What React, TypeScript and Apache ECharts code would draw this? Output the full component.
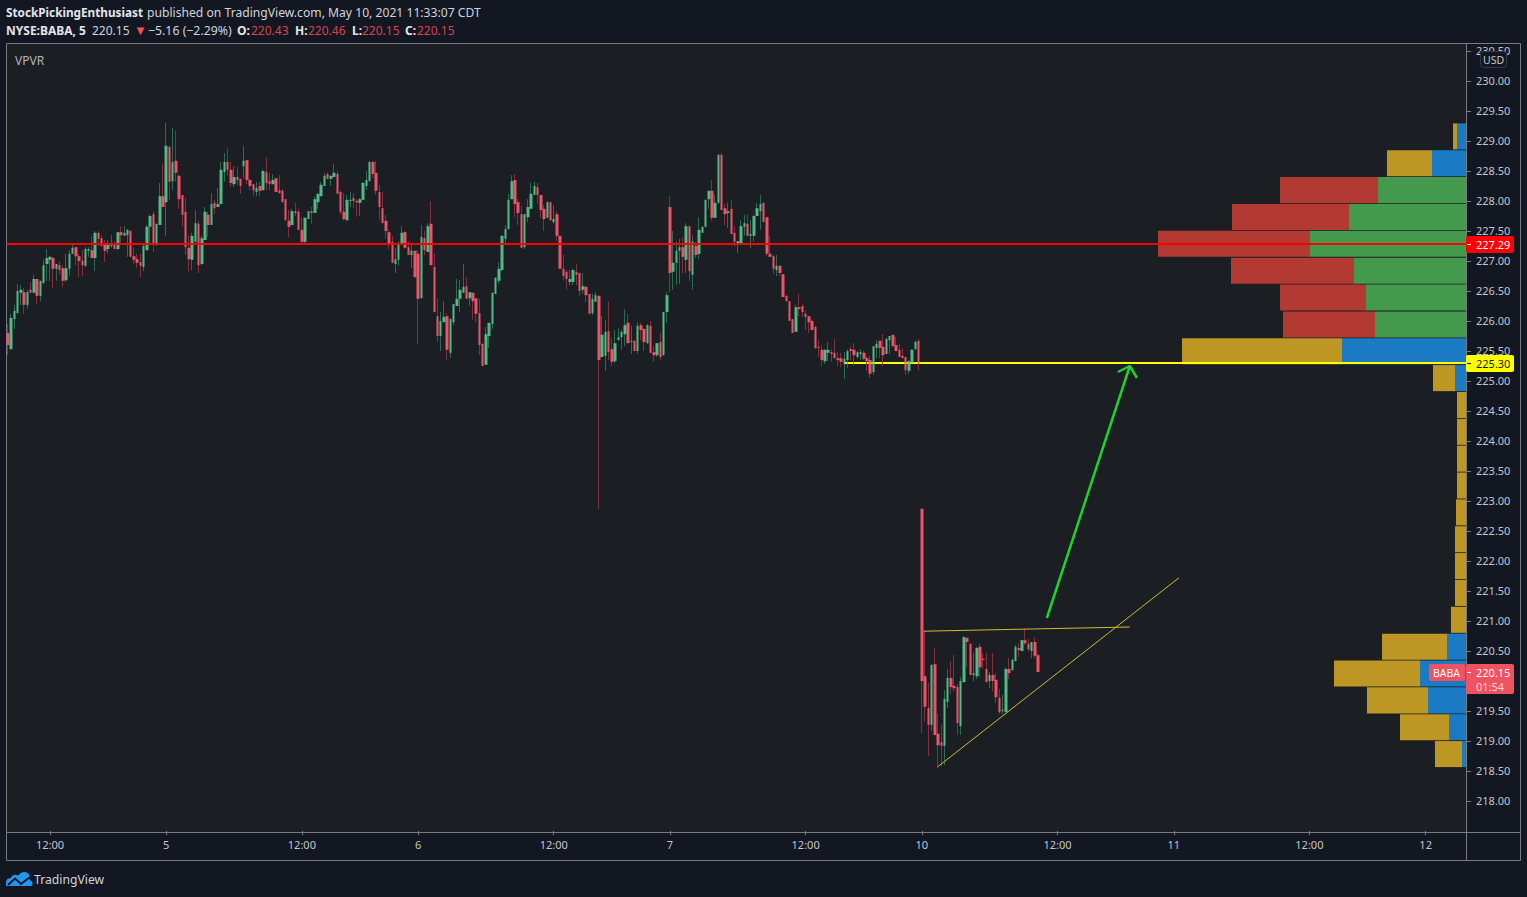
import React, { useEffect, useRef } from "react";
import * as echarts from "echarts";

// [open, close, low, high]
const may4 = [
[225.80,225.60,225.43,225.95],[225.53,226.05,225.53,226.12],[226.03,226.17,225.87,226.27],[226.13,226.50,226.13,226.62],[226.47,226.52,226.27,226.60],[226.48,226.27,226.12,226.55],[226.27,226.48,226.20,226.52],[226.52,226.47,226.47,226.65],[226.47,226.70,226.47,226.77],[226.70,226.42,226.28,226.70],
[226.42,226.67,226.33,226.67],[226.63,226.93,226.63,227.02],[226.95,227.05,226.67,227.20],[227.02,227.07,226.67,227.08],[227.05,226.87,226.55,227.07],[226.87,226.95,226.67,226.95],[226.93,226.85,226.77,227.00],[226.88,226.67,226.57,226.93],[226.68,226.88,226.65,227.12],[226.87,227.12,226.75,227.18],
[227.12,227.22,227.12,227.27],[227.23,227.08,226.93,227.23],[227.08,227.00,226.73,227.12],[227.00,226.93,226.75,227.18],[226.92,227.20,226.90,227.23],[227.17,227.20,227.07,227.23],[227.18,227.05,227.05,227.42],[227.05,227.47,226.83,227.50],[227.47,227.37,227.25,227.50],[227.38,227.25,227.24,227.43],
[227.27,227.17,226.98,227.35],[227.20,227.27,227.12,227.35],[227.25,227.27,227.22,227.43],[227.27,227.20,227.20,227.33],[227.20,227.48,227.18,227.48],[227.48,227.43,227.27,227.58],[227.42,227.47,227.42,227.58],[227.43,227.52,227.07,227.53],[227.50,227.07,227.07,227.52],[227.08,227.02,226.95,227.23],
[227.03,226.97,226.88,227.12],[226.98,226.92,226.73,227.12],[226.90,227.25,226.83,227.27],[227.18,227.57,227.18,227.60],[227.57,227.75,227.27,227.77],[227.78,227.30,227.15,227.83],[227.27,227.62,227.25,227.62],[227.60,228.08,227.60,228.30],[228.08,227.90,227.90,228.62],
];
const may5 = [
[227.98,228.92,227.42,229.30],[228.90,228.32,228.02,228.92],[228.33,228.65,228.18,229.22],[228.67,228.47,228.32,229.17],[228.42,228.03,227.87,228.45],[228.10,227.77,227.58,228.10],[227.82,227.23,227.10,228.05],[227.22,227.03,226.82,227.43],[227.02,227.42,226.85,227.47],[227.32,227.63,227.32,227.85],
[227.62,226.93,226.80,227.67],[226.95,227.38,226.93,227.43],[227.35,227.82,227.35,227.90],[227.77,227.60,227.40,227.82],[227.60,227.95,227.60,228.13],[227.97,227.88,227.78,228.02],[227.90,227.95,227.90,228.22],[227.95,228.52,227.95,228.65],[228.48,228.65,228.32,228.80],[228.65,228.52,228.42,228.88],
[228.52,228.30,228.23,228.65],[228.28,228.40,228.23,228.58],[228.40,228.35,228.27,228.57],[228.37,228.25,228.12,228.37],[228.58,228.67,228.37,228.92],[228.68,228.35,228.28,228.68],[228.35,228.25,228.18,228.37],[228.28,228.18,228.08,228.28],[228.15,228.22,228.08,228.32],[228.25,228.17,228.08,228.32],
[228.18,228.50,228.18,228.52],[228.48,228.30,228.18,228.73],[228.33,228.28,228.18,228.47],[228.28,228.35,228.28,228.45],[228.38,228.15,228.15,228.38],[228.18,228.13,228.13,228.43],[228.17,227.98,227.98,228.20],[228.03,227.68,227.67,228.03],[227.67,227.57,227.40,227.85],[227.60,227.83,227.60,227.87],
[227.83,227.80,227.75,227.97],[227.82,227.52,227.52,227.87],[227.52,227.32,227.30,227.73],[227.32,227.72,227.30,227.73],[227.70,227.83,227.70,227.83],[227.83,227.80,227.62,227.90],[227.80,228.03,227.80,228.08],[227.98,228.12,227.87,228.13],[228.08,228.27,228.08,228.32],[228.25,228.42,228.25,228.47],
[228.45,228.37,228.37,228.48],[228.37,228.42,228.25,228.43],[228.40,228.47,228.40,228.62],[228.45,228.12,228.12,228.50],[228.15,227.82,227.77,228.18],[227.82,227.70,227.67,228.13],[227.68,228.02,227.67,228.10],[228.00,228.02,227.90,228.15],[228.05,228.00,227.88,228.13],[228.00,227.98,227.74,228.03],
[227.97,228.03,227.75,228.05],[228.02,228.30,228.02,228.32],[228.25,228.35,228.18,228.50],[228.33,228.65,228.33,228.67],[228.65,228.45,228.38,228.67],[228.47,228.17,228.10,228.67],[228.15,227.90,227.70,228.27],[227.88,227.63,227.63,228.15],[227.67,227.50,227.38,227.77],[227.48,227.30,227.20,227.52],
[227.32,226.97,226.97,227.42],[226.95,227.03,226.80,227.22],[227.02,227.27,226.92,227.33],[227.27,227.47,227.27,227.58],[227.48,227.22,227.20,227.50],[227.23,227.10,227.10,227.33],[227.10,227.17,226.88,227.27],[227.17,226.73,226.73,227.18],
];
const may6 = [
[227.12,226.37,225.62,227.18],[226.38,227.40,226.38,227.60],[227.38,227.18,227.10,227.50],[227.15,227.58,227.15,227.63],[227.62,226.93,226.93,228.00],[226.90,226.15,226.15,227.13],[226.08,225.75,225.65,226.38],[225.75,226.00,225.50,226.15],[225.98,226.07,225.98,226.33],[226.08,225.52,225.35,226.13],
[225.47,226.03,225.38,226.05],[225.98,226.28,225.93,226.28],[226.25,226.37,226.25,226.70],[226.37,226.52,226.15,226.68],[226.47,226.57,226.47,226.95],[226.58,226.37,226.37,226.73],[226.38,226.48,226.25,226.48],[226.47,226.33,226.02,226.47],[226.38,226.12,225.98,226.38],[226.13,225.60,225.43,226.37],
[225.62,225.25,225.25,225.62],[225.27,225.78,225.27,225.90],[225.75,225.97,225.55,225.97],[225.95,226.47,225.87,226.48],[226.45,226.72,226.45,226.73],[226.67,226.87,226.62,226.98],[226.85,227.42,226.83,227.43],[227.37,227.53,227.28,227.60],[227.53,228.02,227.53,228.12],[228.03,228.33,228.03,228.43],
[228.35,227.95,227.73,228.45],[227.98,227.80,227.60,228.03],[227.78,227.22,227.22,227.92],[227.23,227.78,227.20,227.78],[227.73,227.90,227.65,228.03],[227.87,228.12,227.87,228.30],[228.10,228.25,228.10,228.32],[228.23,228.10,227.95,228.30],[228.10,227.85,227.72,228.10],[227.87,227.70,227.50,227.93],
[227.72,227.98,227.72,228.00],[227.98,227.68,227.67,227.98],[227.65,227.70,227.62,227.93],[227.78,227.42,227.33,227.83],[227.42,226.87,226.87,227.42],[226.87,226.75,226.67,227.10],[226.82,226.70,226.52,226.85],[226.65,226.70,226.60,226.85],[226.65,226.85,226.60,226.87],[226.82,226.77,226.60,226.95],
[226.80,226.50,226.42,226.80],[226.52,226.58,226.45,226.80],[226.57,226.43,226.32,226.57],[226.45,226.12,226.12,226.45],[226.13,226.37,226.10,226.45],[226.32,226.43,226.32,226.48],[226.42,225.35,222.87,226.42],[225.40,225.77,225.40,226.08],[225.42,225.82,225.17,226.02],[225.83,225.48,225.35,226.32],
[225.53,225.32,225.25,225.72],[225.33,225.63,225.30,225.85],[225.68,225.73,225.68,225.88],[225.73,225.82,225.52,225.85],[225.78,225.93,225.58,226.20],[225.97,225.63,225.63,226.12],[225.65,225.67,225.45,225.92],[225.67,225.50,225.50,225.68],[225.50,225.92,225.45,225.98],[225.93,225.85,225.68,225.97],
[225.87,225.65,225.50,225.87],[225.63,225.93,225.62,225.95],[225.92,225.47,225.47,226.00],[225.48,225.43,225.32,225.58],[225.43,225.63,225.40,225.63],[225.65,225.40,225.35,225.80],[225.43,226.15,225.42,226.15],[226.15,226.43,225.97,226.48],
];
const may7 = [
[227.90,226.80,226.48,228.08],[226.82,226.97,226.52,227.50],[226.97,227.17,226.60,227.33],[227.17,227.23,226.62,227.37],[227.23,227.07,226.80,227.40],[227.02,227.58,226.80,227.63],[227.58,226.83,226.67,227.58],[226.77,227.32,226.52,227.43],[227.25,227.10,227.05,227.32],[227.12,227.52,227.03,227.73],
[227.47,227.57,227.47,227.57],[227.57,228.02,227.57,228.02],[228.03,228.17,227.87,228.17],[228.17,227.72,227.67,228.35],[227.72,227.97,227.72,228.10],[227.97,228.77,227.95,228.77],[228.77,227.85,227.85,228.80],[227.88,227.78,227.60,227.95],[227.80,227.83,227.55,227.97],[227.87,227.45,227.45,228.02],
[227.47,227.32,227.25,227.58],[227.30,227.33,227.13,227.33],[227.30,227.58,227.28,227.68],[227.57,227.63,227.42,227.77],[227.62,227.42,227.42,227.78],[227.42,227.45,227.22,227.68],[227.42,227.75,227.32,227.77],[227.75,227.88,227.75,227.97],[227.83,227.95,227.52,228.10],[227.97,227.65,227.65,227.98],
[227.73,227.12,227.08,227.73],[227.12,227.07,227.07,227.42],[227.08,226.87,226.78,227.10],[226.85,226.92,226.75,227.10],[226.92,226.80,226.75,226.93],[226.78,226.40,226.40,226.78],[226.42,226.33,226.33,226.43],[226.33,226.00,226.00,226.33],[226.03,225.80,225.80,226.03],[225.82,226.23,225.82,226.27],
[226.23,226.20,226.08,226.45],[226.25,226.15,226.07,226.28],[226.12,226.07,225.85,226.18],[226.08,225.98,225.80,226.08],[226.00,225.85,225.85,226.02],[225.90,225.55,225.53,225.92],[225.57,225.55,225.40,225.68],[225.52,225.35,225.25,225.60],[225.33,225.52,225.28,225.53],[225.47,225.52,225.33,225.65],
[225.48,225.45,225.32,225.53],[225.47,225.38,225.38,225.70],[225.38,225.35,225.25,225.48],[225.38,225.32,225.23,225.47],[225.28,225.37,225.03,225.48],[225.35,225.50,225.22,225.53],[225.53,225.50,225.35,225.58],[225.52,225.43,225.25,225.63],[225.40,225.48,225.37,225.50],[225.45,225.48,225.35,225.53],
[225.47,225.37,225.35,225.50],[225.38,225.33,225.17,225.42],[225.35,225.12,225.05,225.42],[225.15,225.58,225.10,225.58],[225.55,225.62,225.38,225.68],[225.67,225.55,225.38,225.67],[225.57,225.43,225.25,225.78],[225.45,225.70,225.45,225.72],[225.68,225.75,225.45,225.75],[225.77,225.58,225.58,225.77],
[225.60,225.50,225.50,225.73],[225.52,225.40,225.40,225.62],[225.42,225.38,225.38,225.55],[225.40,225.18,225.10,225.40],[225.17,225.33,225.12,225.35],[225.30,225.52,225.30,225.53],[225.53,225.65,225.52,225.68],[225.67,225.30,225.18,225.70],
];
const may10 = [
[222.87,220.00,219.13,222.87],[220.08,219.57,219.32,220.83],[219.55,219.27,218.75,219.97],[219.27,220.27,219.17,220.27],[220.28,219.10,219.10,220.55],[219.12,218.93,218.55,219.45],[218.98,218.92,218.58,219.27],[218.92,219.70,218.60,219.85],[219.65,220.05,219.55,220.20],[220.05,219.90,219.78,220.33],
[219.92,219.88,219.82,220.43],[219.90,219.30,219.10,219.95],[219.25,220.00,219.10,220.07],[219.98,220.73,219.98,220.75],[220.72,220.65,220.23,220.72],[220.62,220.10,220.10,220.63],[220.10,220.13,220.00,220.47],[220.08,220.55,220.03,220.57],[220.57,220.23,220.07,220.62],[220.37,220.35,220.20,220.47],
[220.20,219.98,219.98,220.47],[220.00,220.10,219.88,220.15],[220.10,220.00,219.83,220.47],[220.02,219.73,219.63,220.13],[219.72,219.48,219.45,219.87],[219.50,219.52,219.45,219.77],[219.48,220.20,219.48,220.23],[220.20,220.13,220.03,220.38],[220.18,220.35,220.18,220.38],[220.33,220.57,220.33,220.60],
[220.55,220.52,220.40,220.63],[220.50,220.68,220.50,220.68],[220.68,220.63,220.60,220.88],[220.62,220.53,220.50,220.70],[220.50,220.65,220.38,220.65],[220.65,220.42,220.38,220.73],[220.43,220.15,220.15,220.46],
];

const TOTAL_SLOTS = 452;
const axisTickSlots = [13, 49, 91, 127, 169, 205, 247, 283, 325, 361, 403, 439];
const axisTickLabels = ["12:00", "5", "12:00", "6", "12:00", "7", "12:00", "10", "12:00", "11", "12:00", "12"];

// Visible-range volume profile, top row first
const vpRowPrices = ["229.08","228.63","228.18","227.74","227.29","226.84","226.40","225.95","225.50","225.06","224.61","224.16","223.72","223.27","222.82","222.37","221.93","221.48","221.03","220.59","220.14","219.69","219.24","218.80"];
const vpUpVolume = [9, 34, 88, 117, 156, 112, 100, 91, 124, 11, 0, 0, 0, 0, 0, 0, 0, 0, 0, 19, 46, 38, 17, 4];
const vpDownVolume = [4, 45, 98, 117, 152, 123, 86, 92, 160, 22, 9, 9, 9, 9, 10, 11, 11, 11, 15, 65, 86, 61, 49, 27];
const vpValueAreaRows = [2, 3, 4, 5, 6, 7];

// Drawn annotations, as [bar position, price]
const pocLine = [[0, 227.283], [452, 227.283]];
const targetLine = [[259.6, 225.30], [452, 225.30]];
const wedgeTop = [[284.1, 220.83], [347.9, 220.90]];
const wedgeBottom = [[288.4, 218.57], [363.1, 221.72]];
const arrowShaft = [[322.2, 221.05], [347.9, 225.25]];
const arrowHead = [[344.2, 225.15], [347.9, 225.25], [350.1, 225.05]];

const CLOUD = "M0 15 L0 11 C0 8.5 2 7 4.5 7.2 C6 3.5 10 3 12.5 4.5 C14.5 0.5 20.5 -0.5 23 3.5 C24.5 6 24 8 23.5 9 C25.5 9.5 26.5 11 26.5 13 C26.5 14.5 25.5 15 24 15 Z";

const UP = "#53b987", DOWN = "#f0526a", UP_WICK = "#2a6c54", DOWN_WICK = "#85303f";
const FRAME = "#787b80", AXIS_TEXT = "#c4c6cc", FONT = '"Noto Sans", sans-serif';

const candles = [...may4, ...may5, ...may6, ...may7, ...may10];

export default function App() {
  const ref = useRef<HTMLDivElement>(null);
  useEffect(() => {
    document.body.style.margin = "0";
    document.body.style.background = "#131722";
    echarts.graphic.registerShape("tvcloud", echarts.graphic.extendPath(CLOUD, {}) as any);
    const chart = echarts.init(ref.current!, null, { renderer: "svg" });

    const categories = Array.from({ length: TOTAL_SLOTS }, (_, i) => {
      const t = axisTickSlots.indexOf(i);
      return t >= 0 ? axisTickLabels[t] : "";
    });
    const showSlot = (i: number) => axisTickSlots.indexOf(i) >= 0;
    const bodies = candles.map(([o, c]) => [o, c, Math.min(o, c), Math.max(o, c)]);
    const annotation = (name: string, data: number[][], color: string, width: number, extra: any = {}) => ({
      name, type: "line" as const, xAxisIndex: 1, yAxisIndex: 0, data, showSymbol: false, symbol: "none",
      lineStyle: { color, width, ...extra }, z: 4, silent: true, animation: false,
    });
    const txt = (x: number, y: number, text: string, fill: string, opts: any = {}) => ({
      type: "text", x, y, z2: opts.z2 ?? 100,
      style: { text, fill, font: `${opts.bold ? "bold " : ""}${opts.size ?? 12}px ${FONT}`, verticalAlign: "middle", align: opts.align ?? "left" },
    });
    const ln = (x1: number, y1: number, x2: number, y2: number, stroke = FRAME, z2 = 50) => ({
      type: "line", z2, shape: { x1, y1, x2, y2 }, style: { stroke, lineWidth: 1 },
    });
    const box = (x: number, y: number, width: number, height: number, fill: string, r = 0, z2 = 90) => ({
      type: "rect", z2, shape: { x, y, width, height, r }, style: { fill },
    });

    chart.setOption({
      animation: false,
      backgroundColor: "#131722",
      tooltip: { show: false },
      grid: [
        { left: 6.4, right: 61, top: 51, bottom: 66 },
        { left: 7, right: 61, top: 123, height: 644.5 },
      ],
      xAxis: [
        {
          type: "category", gridIndex: 0, data: categories, boundaryGap: true,
          axisLine: { show: false },
          axisTick: { show: true, alignWithLabel: true, interval: (i: number) => showSlot(i), length: 4, lineStyle: { color: FRAME } },
          axisLabel: { show: true, interval: (i: number) => showSlot(i), color: AXIS_TEXT, fontSize: 11, fontFamily: FONT, margin: 8, hideOverlap: false },
          splitLine: { show: false },
        },
        { type: "value", gridIndex: 0, min: 0, max: TOTAL_SLOTS, show: false, splitLine: { show: false } },
        { type: "value", gridIndex: 1, min: 0, max: 1459, inverse: true, show: false, splitLine: { show: false } },
      ],
      yAxis: [
        {
          type: "value", gridIndex: 0, position: "right", min: 217.5, max: 230.5, interval: 0.5,
          axisLine: { show: false, onZero: false }, splitLine: { show: false },
          axisTick: { show: true, length: 5, lineStyle: { color: FRAME } },
          axisLabel: {
            color: AXIS_TEXT, fontSize: 11, fontFamily: FONT, margin: 10, showMinLabel: false, verticalAlign: "bottom", lineHeight: 2,
            // 220.00 sits behind the last-price badge in the reference
            formatter: (v: number) => (v === 220 ? "" : v.toFixed(2)),
          },
        },
        { type: "category", gridIndex: 1, inverse: true, data: vpRowPrices, show: false },
      ],
      series: [
        {
          name: "Volume up", type: "bar", xAxisIndex: 2, yAxisIndex: 1, stack: "vp", data: vpUpVolume, barCategoryGap: "3%", z: 0, silent: true,
          itemStyle: { color: (p: any) => (vpValueAreaRows.indexOf(p.dataIndex) >= 0 ? "#43994c" : "#1a7bc4") },
        },
        {
          name: "Volume down", type: "bar", xAxisIndex: 2, yAxisIndex: 1, stack: "vp", data: vpDownVolume, barCategoryGap: "3%", z: 0, silent: true,
          itemStyle: { color: (p: any) => (vpValueAreaRows.indexOf(p.dataIndex) >= 0 ? "#b33a32" : "#bd9624") },
        },
        { ...annotation("Target", targetLine, "#ffff00", 2), z: 0, zlevel: 0 },
        annotation("Target over profile", targetLine, "#ffff00", 2, { opacity: 0.22 }),
        {
          name: "BABA wicks", type: "candlestick", xAxisIndex: 0, yAxisIndex: 0, data: candles, barWidth: 1, z: 2, silent: true,
          itemStyle: { color: UP_WICK, color0: DOWN_WICK, borderColor: UP_WICK, borderColor0: DOWN_WICK, borderWidth: 1 },
        },
        {
          name: "BABA", type: "candlestick", xAxisIndex: 0, yAxisIndex: 0, data: bodies, barWidth: 3, z: 3, silent: true,
          itemStyle: { color: UP, color0: DOWN, borderColor: UP, borderColor0: DOWN, borderWidth: 0 },
        },
        annotation("POC", pocLine, "#ff0000", 2),
        annotation("Wedge top", wedgeTop, "#cdbd32", 1),
        annotation("Wedge bottom", wedgeBottom, "#cdbd32", 1),
        annotation("Arrow", arrowShaft, "#1fd22f", 2.5),
        annotation("Arrow head", arrowHead, "#1fd22f", 2.5),
      ],
      graphic: {
        elements: [
          box(7, 43, 1459, 789, "#1b1e23", 0, -1),
          ln(6.5, 43.5, 1520.5, 43.5),
          ln(6.5, 43.5, 6.5, 860.5),
          ln(1520.5, 43.5, 1520.5, 860.5),
          ln(6.5, 860.5, 1520.5, 860.5),
          ln(6.5, 832.5, 1520.5, 832.5),
          ln(1466.5, 43.5, 1466.5, 860.5),

          txt(6, 12, "StockPickingEnthusiast", "#e4e6ea", { bold: true, size: 11.75 }),
          txt(147, 12, "published on TradingView.com, May 10, 2021 11:33:07 CDT", "#d1d4dc", { size: 12.15 }),
          txt(6, 30, "NYSE:BABA, 5", "#e4e6ea", { bold: true }),
          txt(92, 30, "220.15", "#d1d4dc"),
          txt(134, 30, "▼", "#ef5350", { size: 13 }),
          txt(148, 30, "−5.16 (−2.29%)", "#d1d4dc", { size: 12.3 }),
          txt(237, 30, "O:", "#e4e6ea", { bold: true }),
          txt(251, 30, "220.43", "#d9434e"),
          txt(295, 30, "H:", "#e4e6ea", { bold: true }),
          txt(308, 30, "220.46", "#d9434e"),
          txt(352, 30, "L:", "#e4e6ea", { bold: true }),
          txt(362, 30, "220.15", "#d9434e"),
          txt(405, 30, "C:", "#e4e6ea", { bold: true }),
          txt(417, 30, "220.15", "#d9434e"),
          txt(15, 60, "VPVR", "#b2b5be"),

          { type: "rect", z2: 90, shape: { x: 1480.5, y: 51.5, width: 26, height: 16, r: 3 }, style: { fill: "#131722", stroke: "#363a45", lineWidth: 1 } },
          txt(1493.5, 59.5, "USD", AXIS_TEXT, { size: 10.5, align: "center", z2: 95 }),

          box(1466, 236, 48, 17, "#ff0000", 2),
          ln(1467, 244.5, 1471, 244.5, "#ffffff", 95),
          txt(1476, 244, "227.29", "#ffffff", { size: 11, bold: false }),
          box(1466, 355, 48, 17, "#ffff00", 2),
          ln(1467, 363.5, 1471, 363.5, "#131722", 95),
          txt(1476, 363, "225.30", "#131722", { size: 11 }),

          box(1429, 664, 36, 17, "#ef5261", 2),
          txt(1433, 672.5, "BABA", "#ffffff", { size: 10.5 }),
          box(1466, 664, 48, 30, "#ef5261", 2),
          ln(1467, 672.5, 1471, 672.5, "#ffffff", 95),
          txt(1476, 672.5, "220.15", "#ffffff", { size: 11 }),
          txt(1476, 686, "01:54", "#fbd5d9", { size: 11 }),

          { type: "tvcloud", x: 6, y: 871, z2: 90, style: { fill: "#2196f3" } },
          { type: "polyline", z2: 95, shape: { points: [[8, 885], [15, 878.5], [21, 884], [30, 877]] }, style: { stroke: "#131722", lineWidth: 2, fill: "none" } },
          txt(34, 879, "TradingView", "#d1d4dc", { size: 12.2 }),
        ],
      },
    } as any);
    return () => chart.dispose();
  }, []);
  return <div ref={ref} style={{ position: "fixed", left: 0, top: 0, width: 1527, height: 897 }} />;
}
